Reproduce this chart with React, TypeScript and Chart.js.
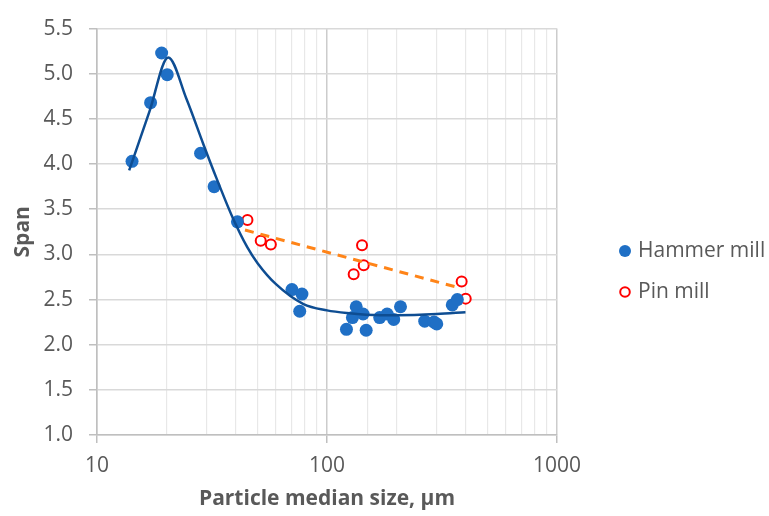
import { useEffect, useRef } from 'react';
import { Chart, registerables } from 'chart.js';
Chart.register(...registerables);

const FONT = '"Open Sans", sans-serif';
const TEXT = '#595959';

const hammerX = [14.2, 17.1, 19.1, 20.2, 28.2, 32.3, 40.8, 70.4, 77.8, 76.1, 134, 129, 143.5, 121.5, 148, 169.5, 182.6, 195, 208.7, 266, 292, 300, 350.5, 368.7];
const hammerY = [4.03, 4.68, 5.23, 4.99, 4.12, 3.75, 3.36, 2.61, 2.56, 2.37, 2.42, 2.30, 2.34, 2.17, 2.16, 2.30, 2.34, 2.28, 2.42, 2.26, 2.25, 2.23, 2.44, 2.50];

const pinX = [45.1, 51.5, 57.0, 142, 144.4, 130.6, 385, 401];
const pinY = [3.38, 3.15, 3.11, 3.10, 2.88, 2.78, 2.70, 2.51];

const hammerFitX = [13.8, 16.9, 20.4, 24.5, 29, 33, 39, 45, 50, 60, 79, 100, 122, 170, 240, 300, 400];
const hammerFitY = [3.93, 4.58, 5.18, 4.72, 4.22, 3.85, 3.40, 3.08, 2.90, 2.67, 2.45, 2.38, 2.35, 2.325, 2.33, 2.34, 2.36];

const pinFitX = [44, 375];
const pinFitY = [3.27, 2.63];

const xLabels = [10, 100, 1000];

const zip = (xs: number[], ys: number[]) => xs.map((x, i) => ({ x, y: ys[i] }));

const HAMMER_COLOR = '#1F6FC5';
const HAMMER_FIT = '#0E4D92';
const PIN_COLOR = '#FF0000';
const PIN_FIT = '#FF8418';

const legendPlugin = {
  id: 'customLegend',
  afterDraw(chart: any) {
    const ctx = chart.ctx;
    ctx.save();
    ctx.font = `21px ${FONT}`;
    ctx.fillStyle = TEXT;
    ctx.textBaseline = 'middle';
    ctx.textAlign = 'left';
    const items = [
      { label: 'Hammer mill', y: 251, fill: HAMMER_COLOR, stroke: HAMMER_COLOR, r: 6, w: 0 },
      { label: 'Pin mill', y: 292, fill: '#FFFFFF', stroke: PIN_COLOR, r: 4.8, w: 2 },
    ];
    for (const it of items) {
      ctx.beginPath();
      ctx.arc(625, it.y, it.r, 0, Math.PI * 2);
      ctx.fillStyle = it.fill;
      ctx.fill();
      if (it.w) {
        ctx.lineWidth = it.w;
        ctx.strokeStyle = it.stroke;
        ctx.stroke();
      }
      ctx.fillStyle = TEXT;
      ctx.fillText(it.label, 638, it.y);
    }
    ctx.restore();
  },
};

export default function App() {
  const ref = useRef<HTMLCanvasElement>(null);
  useEffect(() => {
    document.body.style.margin = '0';
    const chart = new Chart(ref.current!, {
      type: 'scatter',
      data: {
        datasets: [
          {
            label: 'Hammer fit',
            data: zip(hammerFitX, hammerFitY),
            showLine: true,
            borderColor: HAMMER_FIT,
            borderWidth: 2.5,
            pointRadius: 0,
            cubicInterpolationMode: 'monotone',
            order: 0,
          },
          {
            label: 'Pin fit',
            data: zip(pinFitX, pinFitY),
            showLine: true,
            borderColor: PIN_FIT,
            borderWidth: 3,
            borderDash: [9, 7],
            pointRadius: 0,
            order: 0,
          },
          {
            label: 'Hammer mill',
            data: zip(hammerX, hammerY),
            backgroundColor: HAMMER_COLOR,
            borderColor: HAMMER_COLOR,
            pointRadius: 6.5,
            borderWidth: 0,
            order: 1,
          },
          {
            label: 'Pin mill',
            data: zip(pinX, pinY),
            backgroundColor: '#FFFFFF',
            borderColor: PIN_COLOR,
            pointRadius: 5,
            borderWidth: 2,
            order: 1,
          },
        ],
      } as any,
      options: {
        animation: false,
        responsive: false,
        devicePixelRatio: 1,
        layout: { padding: { top: 24, right: 212, left: 0, bottom: 0 } },
        plugins: {
          legend: { display: false },
          tooltip: { enabled: false },
        },
        scales: {
          x: {
            type: 'logarithmic',
            min: 10,
            max: 1000,
            position: 'bottom',
            afterFit: (s: any) => { s.height = 81; },
            border: { color: '#BFBFBF', width: 1.5 },
            grid: {
              color: (c: any) => (c.tick && c.tick.major ? '#CCCCCC' : '#E8E8E8'),
              lineWidth: (c: any) => (c.tick && c.tick.major ? 1.5 : 1.2),
              tickColor: (c: any) => (c.tick && c.tick.major ? '#BFBFBF' : 'rgba(0,0,0,0)'),
              tickLength: 8,
            },
            ticks: {
              autoSkip: false,
              maxRotation: 0,
              padding: 10,
              color: TEXT,
              font: { family: FONT, size: 21 },
              callback: (v: any) => (xLabels.includes(Number(v)) ? String(v) : ''),
            },
            title: {
              display: true,
              text: 'Particle median size, µm',
              color: TEXT,
              font: { family: FONT, size: 21, weight: 'bold' },
              padding: { top: 0, bottom: 4 },
            },
          },
          y: {
            min: 1,
            max: 5.5,
            afterFit: (s: any) => { s.width = 97; },
            border: { color: '#BFBFBF', width: 1.5 },
            grid: {
              color: '#D9D9D9',
              lineWidth: 1.5,
              tickColor: '#BFBFBF',
              tickLength: 8,
            },
            ticks: {
              stepSize: 0.5,
              padding: 16,
              color: TEXT,
              font: { family: FONT, size: 21 },
              callback: (v: any) => Number(v).toFixed(1),
            },
            title: {
              display: true,
              text: 'Span',
              color: TEXT,
              font: { family: FONT, size: 21, weight: 'bold' },
              padding: { top: 10, bottom: 0 },
            },
          },
        },
      } as any,
      plugins: [legendPlugin],
    });
    return () => chart.destroy();
  }, []);
  return (
    <div style={{ width: 769, height: 516, background: '#FFFFFF' }}>
      <canvas ref={ref} width={769} height={516} style={{ display: 'block' }} />
    </div>
  );
}
